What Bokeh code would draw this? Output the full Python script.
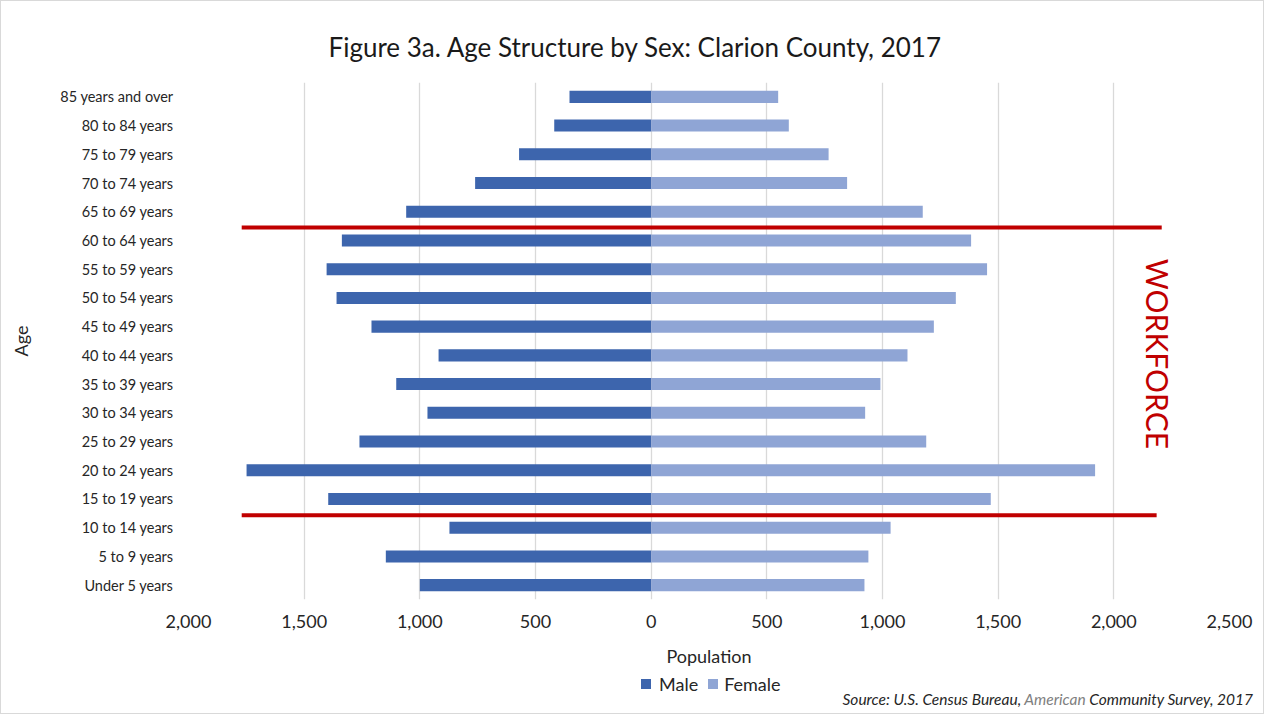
from bokeh.plotting import figure
from bokeh.models import (Range1d, FixedTicker, Label, ColumnDataSource, Div)
from bokeh.layouts import column
from bokeh.embed import file_html
from bokeh.resources import INLINE
import math

# ---- data ----
age_groups = ["Under 5 years", "5 to 9 years", "10 to 14 years", "15 to 19 years",
              "20 to 24 years", "25 to 29 years", "30 to 34 years", "35 to 39 years",
              "40 to 44 years", "45 to 49 years", "50 to 54 years", "55 to 59 years",
              "60 to 64 years", "65 to 69 years", "70 to 74 years", "75 to 79 years",
              "80 to 84 years", "85 years and over"]
male = [1000, 1147, 872, 1396, 1749, 1261, 967, 1102, 919, 1209, 1360, 1403,
        1337, 1059, 761, 571, 419, 353]
female = [922, 939, 1035, 1468, 1919, 1189, 925, 991, 1108, 1222, 1317, 1452,
          1383, 1174, 847, 767, 595, 549]
x_ticks = [-2000, -1500, -1000, -500, 0, 500, 1000, 1500, 2000, 2500]
x_tick_labels = ["2,000", "1,500", "1,000", "500", "0", "500", "1,000", "1,500", "2,000", "2,500"]
series_names = ["Male", "Female"]
# workforce band boundaries (between category positions) and line extents
workforce_y = [12.45, 2.43]
workforce_x0 = [-1770, -1770]
workforce_x1 = [2207, 2185]

FONT = "Lato"
TXT = "#262626"
MALE_C = "#3D65AD"
FEMALE_C = "#8FA5D5"

ypos = list(range(len(age_groups)))
src = ColumnDataSource(dict(y=ypos, male_left=[-m for m in male], zero=[0]*len(male),
                            female=female))

p = figure(width=1262, height=670, output_backend="svg", toolbar_location=None,
           x_range=Range1d(-2000, 2500), y_range=Range1d(-0.5, len(age_groups) - 0.5),
           min_border_left=187, min_border_right=34, min_border_top=81, min_border_bottom=72)
p.outline_line_color = None
p.background_fill_color = "white"
p.border_fill_color = "white"

p.title.text = "Figure 3a. Age Structure by Sex: Clarion County, 2017"
p.title.align = "left"
p.title.offset = 140
p.title.standoff = 40
p.title.text_font = FONT
p.title.text_font_size = "26px"
p.title.text_font_style = "normal"
p.title.text_color = "#1a1a1a"

p.hbar(y="y", left="male_left", right="zero", height=0.42, source=src,
       fill_color=MALE_C, line_color=None)
p.hbar(y="y", left="zero", right="female", height=0.42, source=src,
       fill_color=FEMALE_C, line_color=None)

p.segment(x0=workforce_x0, x1=workforce_x1, y0=workforce_y, y1=workforce_y,
          line_color="#C00000", line_width=4)

p.add_layout(Label(x=2192, y=8.05, text="WORKFORCE", angle=-math.pi / 2,
                   text_align="center", text_baseline="middle", text_color="#C00000",
                   text_font=FONT, text_font_size="30px"))

# axes
xa = p.xaxis[0]
xa.ticker = FixedTicker(ticks=x_ticks)
xa.major_label_overrides = {t: l for t, l in zip(x_ticks, x_tick_labels)}
xa.axis_line_color = None
xa.major_tick_line_color = None
xa.minor_tick_line_color = None
xa.major_label_text_font = FONT
xa.major_label_text_font_size = "18px"
xa.major_label_text_color = TXT
xa.major_label_standoff = 9
xa.axis_label = "Population"
xa.axis_label_text_font = FONT
xa.axis_label_text_font_size = "18px"
xa.axis_label_text_font_style = "normal"
xa.axis_label_text_color = TXT
xa.axis_label_standoff = 14

ya = p.yaxis[0]
ya.ticker = FixedTicker(ticks=ypos)
ya.major_label_overrides = {i: g for i, g in zip(ypos, age_groups)}
ya.axis_line_color = None
ya.major_tick_line_color = None
ya.minor_tick_line_color = None
ya.major_label_text_font = FONT
ya.major_label_text_font_size = "14.5px"
ya.major_label_text_color = TXT
ya.major_label_standoff = 9
ya.axis_label = "Age"
ya.axis_label_text_font = FONT
ya.axis_label_text_font_size = "18px"
ya.axis_label_text_font_style = "normal"
ya.axis_label_text_color = TXT
ya.axis_label_standoff = 25

p.xgrid.ticker = FixedTicker(ticks=x_ticks)
p.xgrid.grid_line_color = "#d9d9d9"
p.xgrid.grid_line_width = 1.3
p.ygrid.grid_line_color = None

# ---- footer: legend + source note ----
sq = "display:inline-block;width:10px;height:10px;"
footer_html = (
    f"<div style='position:relative;width:1262px;height:42px;font-family:{FONT};color:{TXT};'>"
    f"<div style='position:absolute;left:640px;top:3px;height:20px;line-height:20px;"
    f"font-size:18px;white-space:nowrap;display:flex;align-items:center;'>"
    f"<span style='{sq}background:{MALE_C};margin-right:8px;'></span>{series_names[0]}"
    f"<span style='{sq}background:{FEMALE_C};margin-left:10px;margin-right:6px;'></span>{series_names[1]}"
    f"</div>"
    f"<div style='position:absolute;right:10px;top:19px;height:18px;line-height:18px;"
    f"font-size:15.5px;font-style:italic;white-space:nowrap;'>"
    f"Source: U.S. Census Bureau, <span style='color:#808080;'>American</span> "
    f"Community Survey, 2017</div></div>"
)
footer = Div(text=footer_html, width=1262, height=42, margin=0)

layout = column(p, footer)
layout.styles = {"border": "1px solid #d9d9d9"}

open("out.html", "w").write(file_html(layout, INLINE))
